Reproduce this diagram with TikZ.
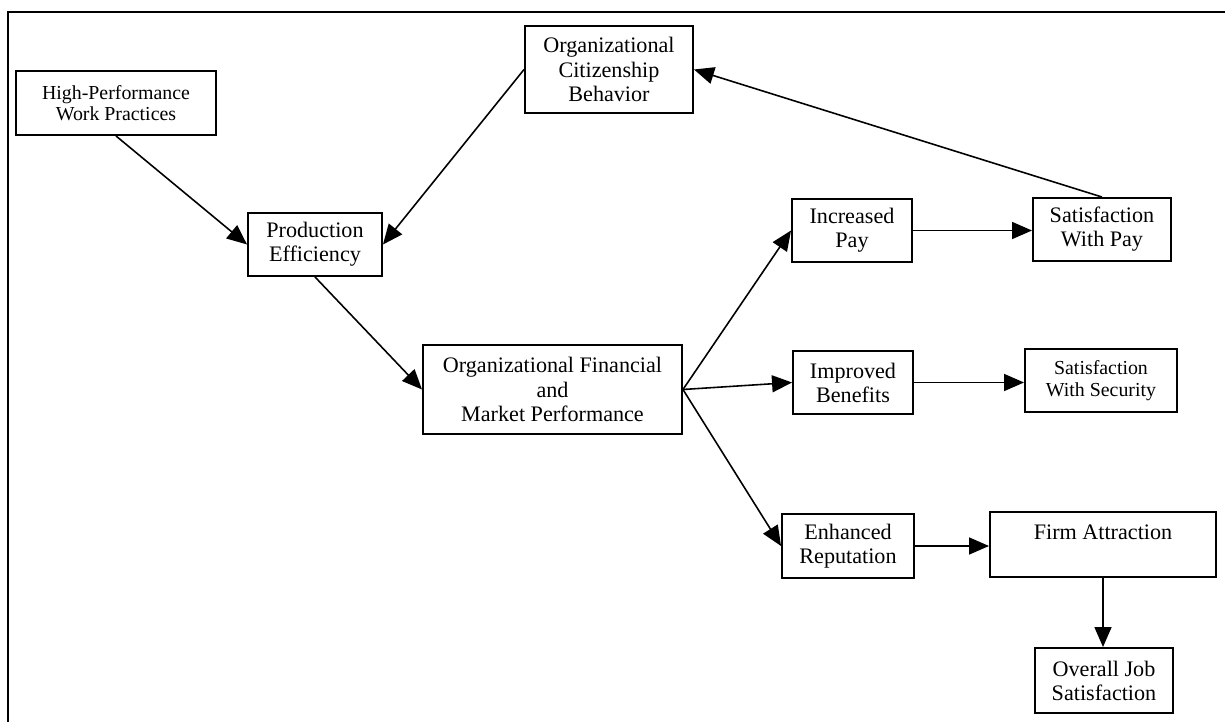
\documentclass[tikz,border=0pt]{standalone}
\usepackage{fontspec}
\setmainfont{Liberation Serif}
\usepackage{tikz}
\usetikzlibrary{arrows.meta,calc,positioning}

\begin{document}
\begin{tikzpicture}
    \tikzset{Block/.style = {draw, line width=1.1pt, align=center,
        inner sep=2pt, font=\fontsize{12.6}{13.7}\selectfont},
      SmallBlock/.style = {Block, font=\fontsize{11.3}{12.2}\selectfont},
      Link/.style = {-{Triangle[length=4mm,width=3.4mm]}, line width=0.9pt}}
    \useasboundingbox (0,0) rectangle (24.5,-14.44);
    \draw[line width=0.8pt] (0.16,-14.44) -- (0.16,-0.24) -- (24.5,-0.24);
    \node[SmallBlock, minimum width=4cm, minimum height=1.28cm] (HPWP) at (2.32,-2.06) {High-Performance\\Work Practices};
    \node[Block, minimum width=3.36cm, minimum height=1.74cm] (OCB) at (12.18,-1.39) {Organizational\\Citizenship\\Behavior};
    \node[Block, minimum width=2.68cm, minimum height=1.26cm] (PE) at (6.30,-4.89) {Production\\Efficiency};
    \node[Block, minimum width=5.18cm, minimum height=1.78cm] (OFMP) at (11.05,-7.79) {Organizational Financial\\and\\Market Performance};
    \node[Block, minimum width=2.4cm, minimum height=1.26cm] (IP) at (17.04,-4.61) {Increased\\Pay};
    \node[Block, minimum width=2.76cm, minimum height=1.26cm] (SWP) at (22.04,-4.59) {Satisfaction\\With Pay};
    \node[Block, minimum width=2.4cm, minimum height=1.26cm] (IB) at (17.06,-7.65) {Improved\\Benefits};
    \node[SmallBlock, minimum width=3.04cm, minimum height=1.26cm] (SWS) at (22.02,-7.61) {Satisfaction\\With Security};
    \node[Block, minimum width=2.64cm, minimum height=1.28cm] (ER) at (16.96,-10.92) {Enhanced\\Reputation};
    \node[Block, minimum width=4.52cm, minimum height=1.3cm] (FA) at (22.06,-10.89) {Firm Attraction\\\phantom{A}};
    \node[Block, minimum width=2.76cm, minimum height=1.3cm] (OJS) at (22.08,-13.61) {Overall Job\\Satisfaction};
    \draw[Link] (HPWP.south) -- (PE.west);
    \draw[Link] (OCB.west) -- (PE.east);
    \draw[Link] (PE.south) -- (OFMP.west);
    \draw[Link] (OFMP.east) -- (IP.west);
    \draw[Link] (OFMP.east) -- (IB.west);
    \draw[Link] (OFMP.east) -- (ER.west);
    \draw[Link] (IP.east) -- (IP.east -| SWP.west);
    \draw[Link] (IB.east) -- (IB.east -| SWS.west);
    \draw[Link] (ER.east) -- (ER.east -| FA.west);
    \draw[Link] (FA.south) -- (FA.south |- OJS.north);
    \draw[Link] (SWP.north) -- (OCB.east);
\end{tikzpicture}
\end{document}
